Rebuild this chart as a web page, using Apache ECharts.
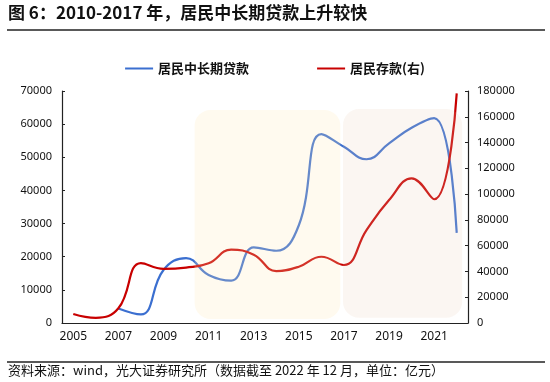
<!DOCTYPE html>
<html>
<head>
<meta charset="utf-8">
<script src="https://cdn.jsdelivr.net/npm/echarts@6/dist/echarts.min.js"></script>
<style>html,body{margin:0;padding:0;background:#fff;}#c{width:550px;height:382px;}</style>
</head>
<body>
<div id="c"></div>
<script>
const years = ['2005','2006','2007','2008','2009','2010','2011','2012','2013','2014','2015','2016','2017','2018','2019','2020','2021','2022'];
const loans = [null, null, 4400, 2600, 16000, 19600, 14500, 12800, 22800, 21800, 29500, 57000, 53200, 49400, 54200, 58900, 61800, 27200];
const deposits = [7000, 4000, 11400, 46500, 42000, 43000, 46300, 57000, 53000, 40300, 43700, 51400, 45000, 72100, 95400, 112200, 96000, 178200];
const leftTicks = [0, 70000, 10000];
const rightTicks = [0, 180000, 20000];
const seriesNames = ['居民中长期贷款', '居民存款(右)'];
const titleText = '图 6：2010-2017 年，居民中长期贷款上升较快';
const footText = '资料来源：wind，光大证券研究所（数据截至 2022 年 12 月，单位：亿元）';
// shaded periods: category + offset (in band widths), value range on left axis
const shades = [
  {from: '2010', fromOff: 0.38, to: '2017', toOff: -0.16, top: 64300, bottom: 1200, color: 'rgba(255,230,180,0.22)'},
  {from: '2017', fromOff: -0.04, to: '2022', toOff: 0.24, top: 64570, bottom: 1600, color: 'rgba(232,205,185,0.18)'}
];

const chart = echarts.init(document.getElementById('c'), null, {renderer: 'canvas'});
const numFont = '"Noto Sans", sans-serif';
const cjk = '"Noto Sans CJK SC", sans-serif';
const plain = v => String(v);
const option = {
  animation: false,
  backgroundColor: '#fff',
  grid: {left: 62, right: 82, top: 91, bottom: 59, containLabel: false},
  legend: {
    top: 57, left: 'center', itemGap: 68, itemWidth: 28, itemHeight: 2,
    textStyle: {fontFamily: cjk, fontSize: 13, fontWeight: 'bold', color: '#111'},
    data: [
      {name: seriesNames[0], icon: 'rect'},
      {name: seriesNames[1], icon: 'rect'}
    ]
  },
  xAxis: {
    type: 'category', data: years, boundaryGap: true,
    axisLine: {lineStyle: {color: '#222', width: 1.2}},
    axisTick: {inside: true, length: 3, interval: 1, lineStyle: {color: '#222'}},
    axisLabel: {interval: 1, margin: 8, fontFamily: numFont, fontSize: 12, color: '#111'},
    splitLine: {show: false}
  },
  yAxis: [
    {
      type: 'value', min: leftTicks[0], max: leftTicks[1], interval: leftTicks[2],
      axisLine: {show: true, lineStyle: {color: '#222', width: 1.2}},
      axisTick: {show: true, inside: true, length: 3, lineStyle: {color: '#222'}},
      axisLabel: {margin: 10, fontFamily: numFont, fontSize: 11, color: '#111', formatter: plain},
      splitLine: {show: false}
    },
    {
      type: 'value', min: rightTicks[0], max: rightTicks[1], interval: rightTicks[2], position: 'right',
      axisLine: {show: true, lineStyle: {color: '#222', width: 1.2}},
      axisTick: {show: true, inside: true, length: 3, lineStyle: {color: '#222'}},
      axisLabel: {margin: 9, fontFamily: numFont, fontSize: 11, color: '#111', formatter: plain},
      splitLine: {show: false}
    }
  ],
  series: [
    {name: seriesNames[0], type: 'line', yAxisIndex: 0, data: loans, smooth: 0.45, showSymbol: false, symbol: 'none',
     lineStyle: {color: '#3b6fd0', width: 2.2}, itemStyle: {color: '#3b6fd0'}},
    {name: seriesNames[1], type: 'line', yAxisIndex: 1, data: deposits, smooth: 0.45, showSymbol: false, symbol: 'none',
     lineStyle: {color: '#c80000', width: 2.2}, itemStyle: {color: '#c80000'}}
  ],
  graphic: [
    {type: 'text', left: 8, top: 4, style: {text: titleText, font: 'bold 17px "Noto Sans CJK SC", sans-serif', fill: '#111'}},
    {type: 'line', shape: {x1: 7, y1: 30, x2: 545, y2: 30}, style: {stroke: '#222', lineWidth: 1.5}},
    {type: 'line', shape: {x1: 7, y1: 362, x2: 545, y2: 362}, style: {stroke: '#222', lineWidth: 1.5}},
    {type: 'text', left: 8, top: 364, style: {text: footText, font: '13px "Noto Sans CJK SC", sans-serif', fill: '#111'}}
  ]
};
chart.setOption(option);

const band = chart.convertToPixel({xAxisIndex: 0}, years[1]) - chart.convertToPixel({xAxisIndex: 0}, years[0]);
const shadeEls = shades.map(s => {
  const x1 = chart.convertToPixel({xAxisIndex: 0}, s.from) + s.fromOff * band;
  const x2 = chart.convertToPixel({xAxisIndex: 0}, s.to) + s.toOff * band;
  const y1 = chart.convertToPixel({yAxisIndex: 0}, s.top);
  const y2 = chart.convertToPixel({yAxisIndex: 0}, s.bottom);
  return {type: 'rect', z: 100, silent: true,
    shape: {x: x1, y: y1, width: x2 - x1, height: y2 - y1, r: 16},
    style: {fill: s.color}};
});
chart.setOption({graphic: option.graphic.concat(shadeEls)});
</script>
</body>
</html>
